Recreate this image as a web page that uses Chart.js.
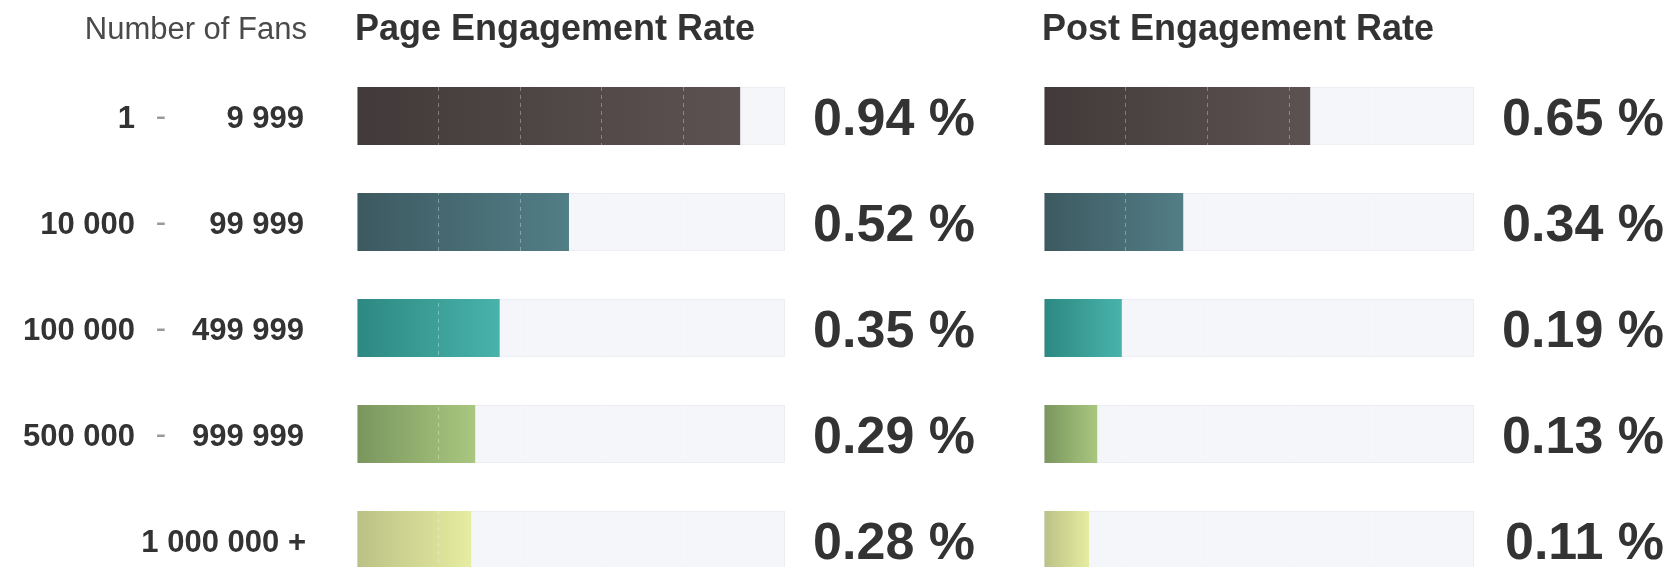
<!DOCTYPE html>
<html>
<head>
<meta charset="utf-8">
<script src="https://cdn.jsdelivr.net/npm/chart.js@4/dist/chart.umd.min.js"></script>
<style>
  html, body { margin: 0; padding: 0; background: #fff; overflow: hidden; }
  #wrap { position: relative; width: 1671px; height: 567px; overflow: hidden; }
  #pageChart { position: absolute; left: 0; top: 0; }
  #postChart { position: absolute; left: 1000px; top: 0; }
</style>
</head>
<body>
<div id="wrap">
  <canvas id="pageChart" width="1000" height="620"></canvas>
  <canvas id="postChart" width="671" height="620"></canvas>
</div>
<script>
// data
const categories = ['1 - 9 999', '10 000 - 99 999', '100 000 - 499 999', '500 000 - 999 999', '1 000 000 +'];
const pageRate = [0.94, 0.52, 0.35, 0.29, 0.28];
const postRate = [0.65, 0.34, 0.19, 0.13, 0.11];
const xMax = 1.05;
const xStep = 0.2;

// one gradient per row, dark on the left, light on the right
const rowColors = [
  ['#423a3a', '#5c5251'],
  ['#3d5960', '#527e86'],
  ['#2d8882', '#48b3ab'],
  ['#7a965e', '#a9c77f'],
  ['#bbc185', '#e6eca0']
];

const FONT = '"Liberation Sans", Arial, sans-serif';

function barGradient(ctx) {
  const chart = ctx.chart;
  const c = rowColors[ctx.dataIndex] || rowColors[0];
  if (!chart.chartArea || ctx.type !== 'data') return c[0];
  const x = chart.scales.x;
  const x0 = x.getPixelForValue(0);
  const x1 = x.getPixelForValue(ctx.raw);
  const g = chart.ctx.createLinearGradient(x0, 0, Math.max(x1, x0 + 1), 0);
  g.addColorStop(0, c[0]);
  g.addColorStop(1, c[1]);
  return g;
}

// light grey track behind each bar, up to the end of the axis
const trackPlugin = {
  id: 'track',
  beforeDatasetsDraw(chart) {
    const ctx = chart.ctx;
    const x = chart.scales.x;
    const meta = chart.getDatasetMeta(0);
    ctx.save();
    meta.data.forEach(bar => {
      const h = bar.height;
      const left = x.getPixelForValue(0);
      const right = x.getPixelForValue(xMax);
      ctx.fillStyle = '#f5f6f9';
      ctx.fillRect(left, bar.y - h / 2, right - left, h);
      ctx.strokeStyle = '#eceef2';
      ctx.lineWidth = 1;
      ctx.strokeRect(left + 0.5, bar.y - h / 2 + 0.5, right - left - 1, h - 1);
    });
    ctx.restore();
  }
};

// header, value labels, and (for the left chart) the fan ranges
const textPlugin = {
  id: 'texts',
  afterDraw(chart, args, opts) {
    const ctx = chart.ctx;
    const y = chart.scales.y;
    const area = chart.chartArea;
    const values = chart.data.datasets[0].data;
    ctx.save();
    ctx.textBaseline = 'alphabetic';

    ctx.fillStyle = '#333';
    ctx.font = 'bold 36px ' + FONT;
    ctx.textAlign = 'left';
    ctx.fillText(opts.title, area.left - 2, 40);

    ctx.font = 'bold 52px ' + FONT;
    ctx.textAlign = 'right';
    values.forEach((v, i) => {
      ctx.fillText(v.toFixed(2) + ' %', area.right + 190, y.getPixelForValue(i) + 19);
    });

    if (opts.showRanges) {
      ctx.font = '31px ' + FONT;
      ctx.fillStyle = '#4a4a4a';
      ctx.fillText('Number of Fans', area.left - 50, 39);

      chart.data.labels.forEach((lab, i) => {
        const cy = y.getPixelForValue(i) + 12;
        const parts = lab.split(' - ');
        ctx.font = 'bold 31px ' + FONT;
        ctx.fillStyle = '#333';
        ctx.textAlign = 'right';
        if (parts.length === 2) {
          ctx.fillText(parts[0], area.left - 222, cy);
          ctx.fillText(parts[1], area.left - 53, cy);
          ctx.font = '31px ' + FONT;
          ctx.fillStyle = '#999';
          ctx.textAlign = 'center';
          ctx.fillText('-', area.left - 196, cy - 2);
        } else {
          ctx.fillText(lab, area.left - 51, cy);
        }
      });
    }
    ctx.restore();
  }
};

function makeChart(id, values, title, showRanges, padding) {
  return new Chart(document.getElementById(id), {
    type: 'bar',
    data: {
      labels: categories,
      datasets: [{
        data: values,
        backgroundColor: barGradient,
        borderWidth: 0,
        categoryPercentage: 1,
        barPercentage: 0.545
      }]
    },
    options: {
      indexAxis: 'y',
      responsive: false,
      animation: false,
      devicePixelRatio: 1,
      layout: { padding: padding },
      scales: {
        x: {
          min: 0,
          max: xMax,
          ticks: { display: false, stepSize: xStep },
          grid: {
            z: 1,
            drawTicks: false,
            lineWidth: 1,
            color: c => (c.tick && c.tick.value > 0.01 && c.tick.value < 0.99) ? 'rgba(255,255,255,0.32)' : 'rgba(0,0,0,0)'
          },
          border: { display: false, dash: [4, 4] }
        },
        y: { display: false }
      },
      plugins: {
        legend: { display: false },
        tooltip: { enabled: false },
        texts: { title: title, showRanges: showRanges }
      }
    },
    plugins: [trackPlugin, textPlugin]
  });
}

makeChart('pageChart', pageRate, 'Page Engagement Rate', true, { left: 357, right: 215, top: 63, bottom: 27 });
makeChart('postChart', postRate, 'Post Engagement Rate', false, { left: 44, right: 197, top: 63, bottom: 27 });
</script>
</body>
</html>
